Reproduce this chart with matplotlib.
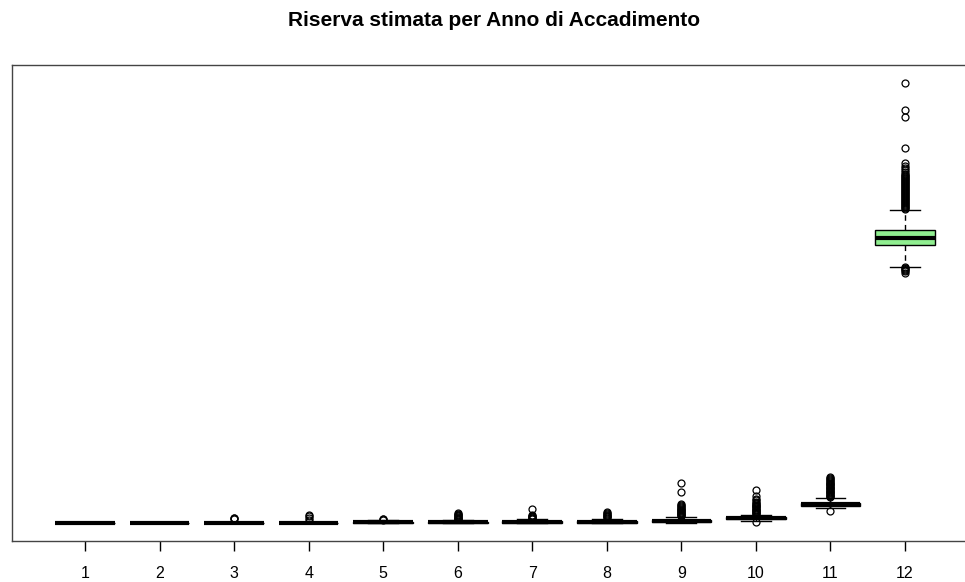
import matplotlib
matplotlib.use("Agg")
import matplotlib.pyplot as plt

plt.rcParams['font.family'] = ['Liberation Sans', 'DejaVu Sans']

title = "Riserva stimata per Anno di Accadimento"
categories = ["1", "2", "3", "4", "5", "6", "7", "8", "9", "10", "11", "12"]

# Box statistics per accident year (arbitrary units)
q1 = [0, 0, 0, 0, 50, 50, 60, 70, 180, 410, 1790, 27840]
med = [0, 10, 10, 20, 100, 110, 120, 140, 270, 590, 1940, 28540]
q3 = [0, 20, 30, 60, 160, 180, 200, 240, 380, 670, 2090, 29340]
whislo = [0, 0, 0, 0, 0, 0, 0, 0, 0, 240, 1510, 25670]
whishi = [0, 40, 80, 150, 330, 380, 420, 480, 680, 840, 2570, 31340]

fliers = [
    [],
    [],
    [420, 510, 560],
    [340, 540, 740, 840],
    [380, 420, 460],
    [430, 470, 520, 580, 650, 720, 800, 870, 940, 1010],
    [470, 520, 580, 640, 700, 770, 850, 1410],
    [540, 620, 700, 780, 860, 950, 1050, 1170],
    [730, 800, 870, 940, 1010, 1080, 1150, 1220, 1300, 1380, 1460, 1540,
     1620, 1700, 1800, 1940, 3110, 4010],
    [170, 940, 1010, 1080, 1150, 1220, 1300, 1380, 1460, 1540, 1620, 1700,
     1780, 1860, 1950, 2050, 2180, 2340, 2410, 2770, 3340],
    [1270, 2620, 2700, 2780, 2860, 2940, 3020, 3100, 3180, 3260,
     3340, 3420, 3500, 3580, 3660, 3740, 3820, 3900, 3980, 4060, 4140,
     4220, 4300, 4400, 4500, 4670],
    [25050, 25200, 25300, 25400, 25500, 25600,
     31400, 31500, 31600, 31700, 31800, 31900, 32000, 32100, 32200, 32300,
     32400, 32500, 32600, 32700, 32800, 32900, 33000, 33100, 33200, 33300,
     33400, 33500, 33600, 33700, 33800, 33900, 34000, 34100, 34200, 34300,
     34400, 34500, 34600, 34700, 34800, 34900, 35100, 35300, 35500, 35700,
     36000, 37540, 40640, 41290, 44040],
]

stats = []
for i, lab in enumerate(categories):
    stats.append(dict(label=lab, q1=q1[i], med=med[i], q3=q3[i],
                      whislo=whislo[i], whishi=whishi[i], fliers=fliers[i]))

W, H = 965, 582
fig = plt.figure(figsize=(W / 100, H / 100), dpi=100)
left, right, top, bottom = 12, 978, 65, 541
ax = fig.add_axes([left / W, (H - bottom) / H, (right - left) / W, (bottom - top) / H])

ax.bxp(stats, positions=range(1, 13), widths=0.8, patch_artist=True,
       boxprops=dict(facecolor="#90EE90", edgecolor="black", linewidth=1),
       medianprops=dict(color="black", linewidth=3, solid_capstyle="butt"),
       whiskerprops=dict(color="black", linewidth=1, linestyle=(0, (4, 3))),
       capprops=dict(color="black", linewidth=1),
       capwidths=0.4,
       flierprops=dict(marker="o", markersize=5, markerfacecolor="none",
                       markeredgecolor="black", markeredgewidth=0.9))

ax.set_xlim(0.02, 12.98)
ax.set_ylim(-1760, 45840)
ax.set_xticks(range(1, 13))
ax.set_xticklabels(categories, fontsize=11.5)
ax.set_yticks([])
ax.tick_params(axis="x", direction="out", length=7, width=1, pad=11, colors="black")
for s in ax.spines.values():
    s.set_color("#444444")
    s.set_linewidth(1)
ax.spines["right"].set_visible(False)

fig.text(494 / W, 1 - 21 / H, title, ha="center", va="center",
         fontsize=15, fontweight="bold")

fig.savefig("out.png", dpi=100)
